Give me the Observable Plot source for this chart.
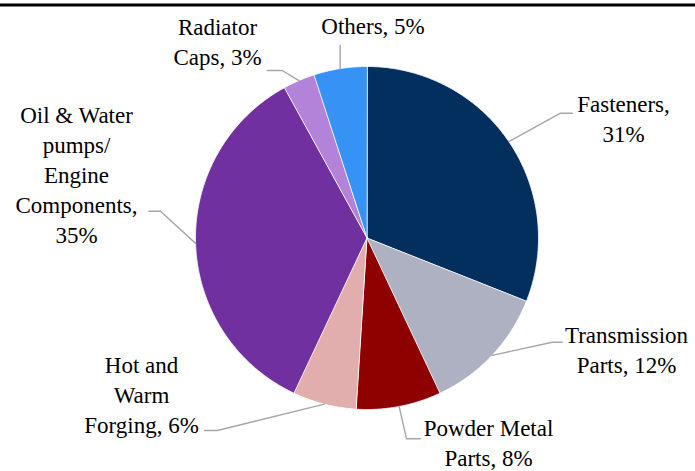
<!DOCTYPE html>
<html>
<head>
<meta charset="utf-8">
<script src="https://cdn.jsdelivr.net/npm/d3@7"></script>
<script src="https://cdn.jsdelivr.net/npm/@observablehq/plot@0.6"></script>
<style>
  body { margin: 0; background: #ffffff; }
  svg { display: block; }
</style>
</head>
<body>
<div id="chart"></div>
<script>
// Segment shares (%), clockwise from 12 o'clock
const segments = [
  "Fasteners",
  "Transmission Parts",
  "Powder Metal Parts",
  "Hot and Warm Forging",
  "Oil & Water pumps/ Engine Components",
  "Radiator Caps",
  "Others"
];
const shares = [31, 12, 8, 6, 35, 3, 5];

// Label wording as wrapped on the chart, and the separator before the share
const labelNames = [
  "Fasteners",
  "Transmission\nParts",
  "Powder Metal\nParts",
  "Hot and\nWarm\nForging",
  "Oil & Water\npumps/\nEngine\nComponents",
  "Radiator\nCaps",
  "Others"
];
const labelSeparators = [",\n", ", ", ", ", ", ", ",\n", ", ", ", "];

const sliceColors = ["#022f5e", "#adb1c1", "#8f0000", "#e2adad", "#7030a0", "#b382d9", "#3792f5"];

// ---- layout (pixels; pie centre is the origin, y points up) ----
const W = 695, H = 471;
const CX = 366.5, CY = 237.5, R = 171.5;
const FONT = 23, LINE = 30;

// label anchor (centre of text block, baseline of last line) and leader elbow/end
const labelLayout = [
  {tx: 256.5, ty: 95.8,   elbow: [193.5, 124.8],  end: [205.5, 124.8]},
  {tx: 259.5, ty: -135.2, elbow: [185.2, -104.2], end: [195.2, -104.2]},
  {tx: 121.5, ty: -228.3, elbow: [39.5, -200.8],  end: [53.5, -200.8]},
  {tx: -225.5, ty: -194.5, elbow: [-149.8, -192.5], end: [-162.5, -192.5]},
  {tx: -290.5, ty: -4.5,  elbow: [-206.5, 26.8],  end: [-218.2, 26.8]},
  {tx: -149.5, ty: 173.5, elbow: [-84.8, 167.5],  end: [-99.8, 167.5]},
  {tx: 6, ty: 204.2,      elbow: null,            end: [null, 192.5]}
];

const rows = segments.map((name, i) => ({
  name,
  share: shares[i],
  label: labelNames[i] + labelSeparators[i] + shares[i] + "%",
  layout: labelLayout[i]
}));

const arcs = d3.pie().sort(null).value(d => d.share)(rows);

// wedge outlines: centre followed by points along the arc
const wedgePoints = arcs.flatMap(a => {
  const n = Math.max(2, Math.ceil((a.endAngle - a.startAngle) / (Math.PI / 360)));
  const pts = [{name: a.data.name, x: 0, y: 0}];
  for (let i = 0; i <= n; ++i) {
    const t = a.startAngle + (a.endAngle - a.startAngle) * i / n;
    pts.push({name: a.data.name, x: R * Math.sin(t), y: R * Math.cos(t)});
  }
  return pts;
});

// leader lines from the arc at each wedge's mid-angle
const leaderPoints = arcs.flatMap(a => {
  const mid = (a.startAngle + a.endAngle) / 2;
  const sx = R * Math.sin(mid), sy = R * Math.cos(mid);
  const L = a.data.layout;
  const pts = [{name: a.data.name, x: sx, y: sy}];
  if (L.elbow) pts.push({name: a.data.name, x: L.elbow[0], y: L.elbow[1]});
  pts.push({name: a.data.name, x: L.end[0] ?? sx, y: L.end[1]});
  return pts;
});

const chart = Plot.plot({
  width: W,
  height: H,
  margin: 0,
  style: {background: "#ffffff", overflow: "visible"},
  x: {domain: [-CX, W - CX], axis: null},
  y: {domain: [-(H - CY), CY], axis: null},
  color: {domain: segments, range: sliceColors},
  marks: [
    Plot.ruleY([CY - 4.5], {stroke: "#000000", strokeWidth: 3}),
    Plot.line(wedgePoints, {
      x: "x", y: "y", z: "name", fill: "name",
      stroke: "#ffffff", strokeWidth: 0.8, curve: "linear-closed"
    }),
    Plot.line(leaderPoints, {
      x: "x", y: "y", z: "name",
      stroke: "#a6a6a6", strokeWidth: 1.4
    }),
    Plot.text(rows, {
      x: d => d.layout.tx,
      y: d => d.layout.ty,
      text: "label",
      fontSize: FONT,
      fontFamily: "Liberation Serif",
      lineHeight: LINE / FONT,
      lineAnchor: "bottom",
      textAnchor: "middle",
      fill: "#000000"
    })
  ]
});

document.getElementById("chart").appendChild(chart);
</script>
</body>
</html>
